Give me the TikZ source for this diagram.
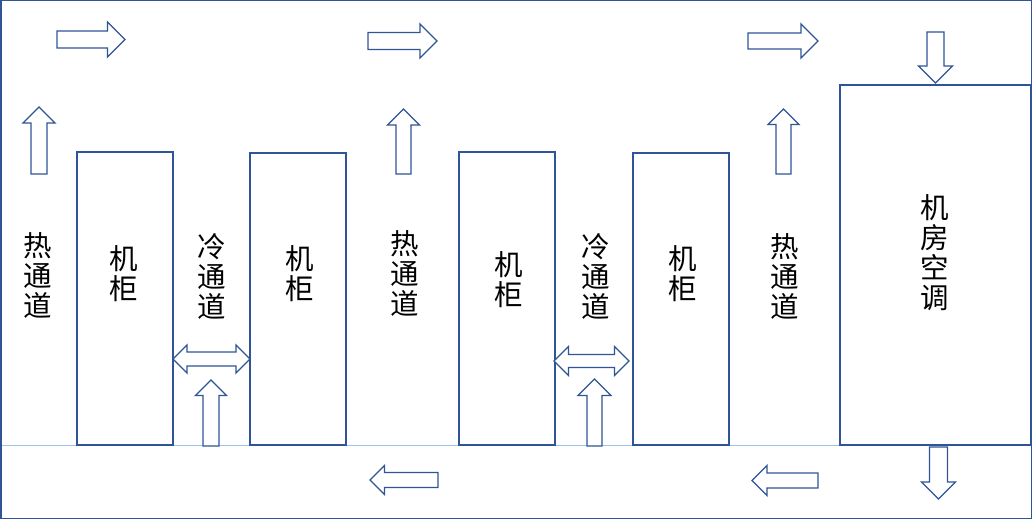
\documentclass[tikz,border=0pt]{standalone}
\usepackage{fontspec}
\newfontfamily\cjk{Noto Sans CJK SC}
\usetikzlibrary{positioning}
\definecolor{lineblue}{RGB}{47,85,151}
\definecolor{floorblue}{RGB}{157,195,230}

\begin{document}
\begin{tikzpicture}[
  x=1pt, y=-1pt,
  rack/.style={draw=lineblue, line width=1.2pt, fill=white, inner sep=0pt, outer sep=0pt, anchor=north west},
  lbl/.style={font=\cjk\fontsize{28.5}{30}\selectfont, align=center, inner sep=0pt},
  flowline/.style={draw=lineblue, line width=1.3pt, line join=miter, fill=white},
  % one-way block arrow: length, half head, half shaft
  pics/flow/.style n args={3}{code={
    \draw[flowline] (0,-#3) -- (#1-#2,-#3) -- (#1-#2,-#2) -- (#1,0)
      -- (#1-#2,#2) -- (#1-#2,#3) -- (0,#3) -- cycle;}},
  % two-way block arrow
  pics/swap/.style n args={3}{code={
    \draw[flowline] (0,0) -- (#2,-#2) -- (#2,-#3) -- (#1-#2,-#3) -- (#1-#2,-#2)
      -- (#1,0) -- (#1-#2,#2) -- (#1-#2,#3) -- (#2,#3) -- (#2,#2) -- cycle;}}
]
\useasboundingbox (0,0) rectangle (1032,519);
\draw[floorblue, line width=1.5pt] (0,445.5) -- (1032,445.5);
\draw[lineblue, line width=1.5pt] (0.75,0.75) rectangle (1031.25,518.25);

\node[rack, minimum width=96, minimum height=293] (rack1) at (77,152) {};
\node[rack, minimum width=96, minimum height=292] (rack2) at (250,153) {};
\node[rack, minimum width=96, minimum height=293] (rack3) at (459,152) {};
\node[rack, minimum width=96, minimum height=292] (rack4) at (633,153) {};
\node[rack, minimum width=191, minimum height=360] (ac) at (840,85) {};

\node[lbl] (hot1) at (38,275) {热\\通\\道};
\node[lbl] (lab1) at (124,274) {机\\柜};
\node[lbl] (cold1) at (212,276) {冷\\通\\道};
\node[lbl] (lab2) at (300,274) {机\\柜};
\node[lbl] (hot2) at (405,273) {热\\通\\道};
\node[lbl] (lab3) at (509,280) {机\\柜};
\node[lbl] (cold2) at (596,276) {冷\\通\\道};
\node[lbl] (lab4) at (683,274) {机\\柜};
\node[lbl] (hot3) at (785,276) {热\\通\\道};
\node[lbl] (aclab) at (935,253) {机\\房\\空\\调};

\pic at (57,39.5) {flow={68}{17.5}{8.5}};
\pic at (368,41) {flow={69}{17}{8.5}};
\pic at (748,41) {flow={70}{17}{8}};
\pic[rotate=90] at (39,174) {flow={67}{16}{8}};
\pic[rotate=90] at (403.5,174) {flow={65}{16}{7.5}};
\pic[rotate=90] at (783.5,174) {flow={65}{15.5}{7.5}};
\pic[rotate=-90] at (935.5,32) {flow={51}{17}{8.5}};
\pic[rotate=-90] at (938.5,447) {flow={52}{17}{9}};
\pic[rotate=180] at (438,480) {flow={68}{14.5}{7.5}};
\pic[rotate=180] at (818,480.5) {flow={66}{15}{7.5}};
\pic[rotate=90] at (211,446) {flow={66}{15.5}{8}};
\pic[rotate=90] at (594.5,446) {flow={67}{16.5}{7.5}};
\pic at (173,359) {swap={77}{14}{7}};
\pic at (554,361) {swap={75}{14.5}{6.5}};
\end{tikzpicture}
\end{document}
